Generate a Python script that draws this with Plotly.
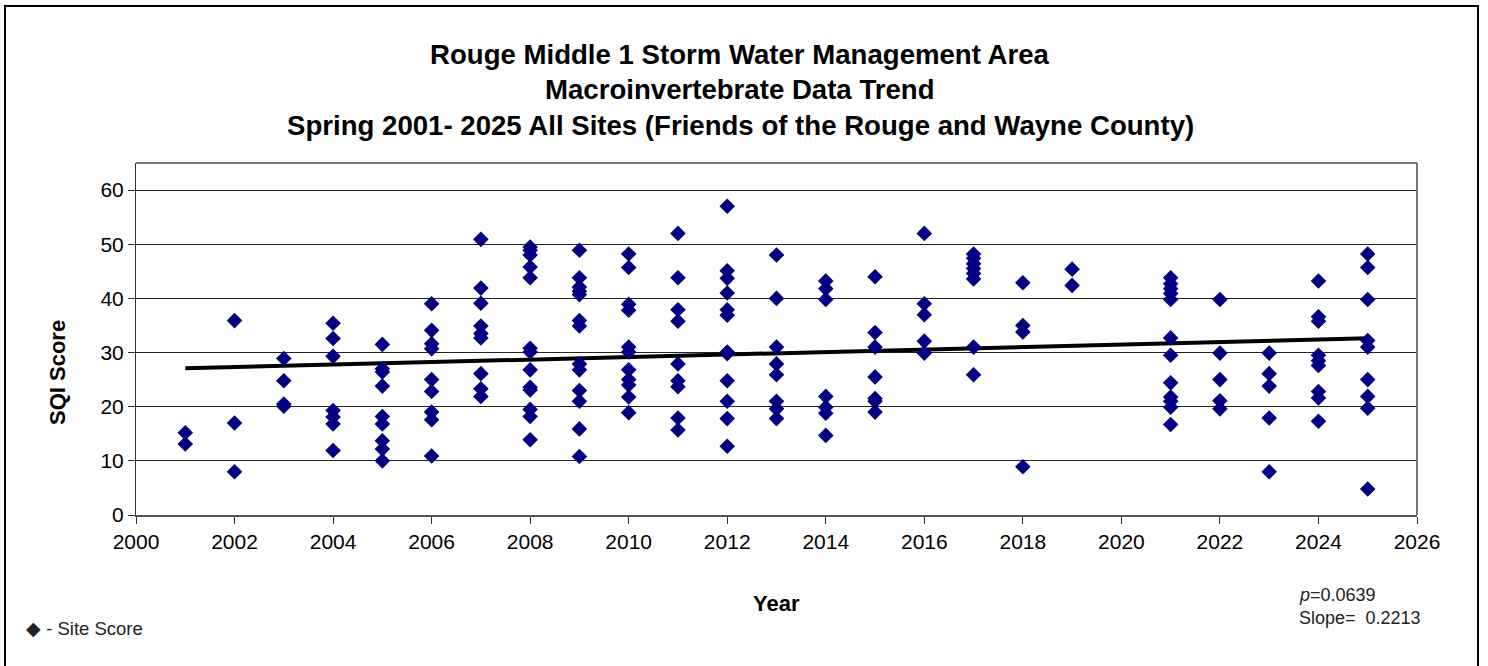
import numpy as np
import plotly.graph_objects as go

years = [2001, 2002, 2003, 2004, 2005, 2006, 2007, 2008, 2009, 2010, 2011, 2012, 2013,
         2014, 2015, 2016, 2017, 2018, 2019, 2021, 2022, 2023, 2024, 2025]

scores_by_year = {
    2001: [15.2, 13.1],
    2002: [35.9, 17.0, 8.0],
    2003: [28.9, 24.8, 20.5, 20.1],
    2004: [35.4, 32.6, 29.3, 19.3, 18.1, 16.8, 11.9],
    2005: [31.5, 27.0, 26.4, 23.8, 18.2, 16.8, 13.7, 12.2, 10.0],
    2006: [39.0, 34.1, 31.6, 30.7, 25.0, 22.8, 19.0, 17.6, 10.9],
    2007: [50.9, 41.9, 39.1, 34.9, 33.5, 32.7, 26.1, 23.3, 21.9],
    2008: [49.5, 48.9, 48.0, 45.8, 43.8, 30.8, 30.1, 26.8, 23.6, 23.1, 19.5, 18.2, 13.9],
    2009: [48.9, 43.8, 42.1, 41.3, 40.7, 35.9, 34.9, 27.9, 26.8, 23.0, 21.0, 15.9, 10.8],
    2010: [48.2, 45.7, 38.9, 37.8, 31.0, 30.1, 26.8, 25.0, 24.0, 21.8, 18.9],
    2011: [52.0, 43.8, 37.9, 35.8, 27.9, 24.8, 23.7, 17.9, 15.7],
    2012: [57.0, 45.1, 43.7, 41.0, 37.9, 36.9, 30.1, 29.8, 24.8, 21.0, 17.8, 12.7],
    2013: [48.0, 40.0, 31.0, 27.9, 25.9, 21.0, 19.6, 17.8],
    2014: [43.2, 41.8, 39.8, 21.9, 19.9, 18.8, 14.7],
    2015: [44.0, 33.7, 31.0, 25.5, 21.5, 21.0, 19.0],
    2016: [52.0, 39.0, 37.0, 32.1, 29.9],
    2017: [48.2, 47.4, 46.4, 45.5, 44.6, 43.6, 31.0, 25.9],
    2018: [42.9, 35.0, 33.8, 8.9],
    2019: [45.4, 42.4],
    2021: [43.8, 42.7, 41.8, 40.9, 39.8, 32.7, 29.5, 24.4, 21.8, 21.0, 19.9, 16.7],
    2022: [39.8, 29.9, 25.0, 21.1, 19.6],
    2023: [29.9, 26.1, 23.8, 17.9, 8.0],
    2024: [43.2, 36.6, 35.8, 29.5, 28.5, 27.6, 22.8, 21.6, 17.3],
    2025: [48.2, 45.7, 39.8, 32.2, 31.0, 25.0, 21.9, 19.7, 4.8],
}

x_ticks = list(range(2000, 2027, 2))
y_ticks = [0, 10, 20, 30, 40, 50, 60]

title_lines = [
    "Rouge Middle 1 Storm Water Management Area",
    "Macroinvertebrate Data Trend",
    "Spring 2001- 2025 All Sites (Friends of the Rouge and Wayne County)",
]

xs = []
ys = []
for yr in years:
    for v in scores_by_year[yr]:
        xs.append(yr)
        ys.append(v)
xs = np.array(xs, dtype=float)
ys = np.array(ys, dtype=float)

slope, intercept = np.polyfit(xs, ys, 1)
trend_x = [min(years), max(years)]
trend_y = [slope * t + intercept for t in trend_x]

FONT = "Liberation Sans, Arial, sans-serif"

fig = go.Figure()
fig.add_trace(go.Scatter(
    x=trend_x, y=trend_y, mode="lines",
    line=dict(color="black", width=4), hoverinfo="skip", showlegend=False,
))
fig.add_trace(go.Scatter(
    x=xs, y=ys, mode="markers",
    marker=dict(symbol="diamond", size=12, color="#000080", line=dict(width=0)),
    showlegend=False,
))

fig.update_layout(
    width=1488, height=666,
    margin=dict(l=136, r=71, t=163, b=151),
    paper_bgcolor="white", plot_bgcolor="white",
    font=dict(family=FONT, color="black", size=21),
    showlegend=False,
)
fig.update_xaxes(
    range=[2000, 2026], tickvals=x_ticks, ticktext=[str(t) for t in x_ticks],
    showgrid=False, zeroline=False,
    showline=True, linecolor="#555555", linewidth=2,
    ticks="outside", ticklen=7, tickcolor="#333333", tickwidth=1,
    tickfont=dict(size=21, family=FONT, color="black"),
)
fig.update_yaxes(
    range=[0, 65], tickvals=y_ticks, ticktext=[str(t) for t in y_ticks],
    showgrid=True, gridcolor="#222222", gridwidth=1, zeroline=False,
    showline=True, linecolor="#333333", linewidth=1,
    ticks="outside", ticklen=7, tickcolor="#333333", tickwidth=1,
    tickfont=dict(size=21, family=FONT, color="black"),
)

# plot-area frame (top and right)
fig.add_shape(type="line", xref="paper", yref="paper", x0=0, x1=1, y0=1, y1=1,
              line=dict(color="#777777", width=2))
fig.add_shape(type="line", xref="paper", yref="paper", x0=1, x1=1, y0=0, y1=1,
              line=dict(color="#777777", width=2))

# outer border
pw = 1488 - 136 - 71
ph = 666 - 163 - 151
def px(xp):
    return (xp - 136) / pw
def py(yp):
    return (666 - 151 - yp) / ph
fig.add_shape(type="rect", xref="paper", yref="paper",
              x0=px(5), x1=px(1478), y0=py(670), y1=py(6),
              line=dict(color="black", width=2), fillcolor="rgba(0,0,0,0)", layer="below")

# titles
for line, ypix in zip(title_lines, [55, 89, 125]):
    fig.add_annotation(text="<b>%s</b>" % line, xref="paper", yref="paper",
                       x=px(740), y=py(ypix), showarrow=False,
                       xanchor="center", yanchor="middle",
                       font=dict(size=27.6, family=FONT, color="black"))

fig.add_annotation(text="<b>Year</b>", xref="paper", yref="paper",
                   x=px(776), y=py(603), showarrow=False, xanchor="center", yanchor="middle",
                   font=dict(size=22, family=FONT, color="black"))
fig.add_annotation(text="<b>SQI Score</b>", xref="paper", yref="paper",
                   x=px(57), y=py(373), showarrow=False, textangle=-90,
                   xanchor="center", yanchor="middle",
                   font=dict(size=22, family=FONT, color="black"))

fig.add_annotation(text="<i>p</i>=0.0639", xref="paper", yref="paper",
                   x=px(1297), y=py(595), showarrow=False, xanchor="left", yanchor="middle",
                   font=dict(size=18, family=FONT, color="#222222"))
fig.add_annotation(text="Slope=\u00a0 %.4f" % 0.2213, xref="paper", yref="paper",
                   x=px(1297), y=py(618), showarrow=False, xanchor="left", yanchor="middle",
                   font=dict(size=18, family=FONT, color="#222222"))
fig.add_annotation(text="◆ - Site Score", xref="paper", yref="paper",
                   x=px(24), y=py(628), showarrow=False, xanchor="left", yanchor="middle",
                   font=dict(size=18.5, family=FONT, color="#222222"))

fig.write_html("out.html", config={"displayModeBar": False},
               post_script="document.body.style.margin='0px';")
